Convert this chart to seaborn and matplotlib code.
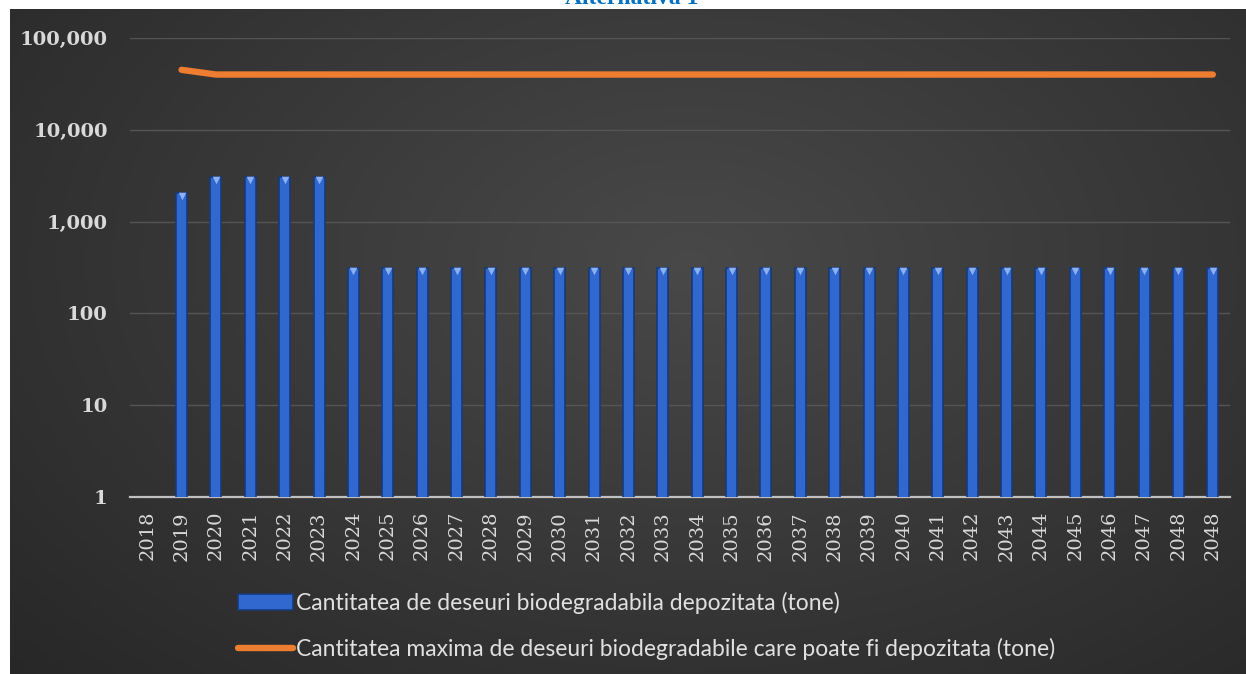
import numpy as np
import pandas as pd
import seaborn as sns
import matplotlib.pyplot as plt
from matplotlib.ticker import FuncFormatter, NullLocator

# data
years = ["2018"] + [str(y) for y in range(2019, 2049)] + ["2048"]
deposited = [np.nan, 2050] + [3050] * 4 + [310] * 26
max_allowed = [np.nan, 45000] + [40000] * 30

bar_label = "Cantitatea de deseuri biodegradabila depozitata (tone)"
line_label = "Cantitatea maxima de deseuri biodegradabile care poate fi depozitata (tone)"

df = pd.DataFrame({
    "pos": range(len(years)),
    "year": years,
    "deposited": deposited,
    "max_allowed": max_allowed,
})

sns.set_theme(style="white")
plt.rcParams["font.family"] = ["DejaVu Serif", "DejaVu Sans"]

W, H = 1246, 674
fig = plt.figure(figsize=(W / 100, H / 100), dpi=100, facecolor="white")

# dark gradient background of the chart area
bg = fig.add_axes([10 / W, 0, 1 - 10 / W, 1 - 9 / H], zorder=0)
gx, gy = np.meshgrid(np.linspace(0, 1, 400), np.linspace(0, 1, 220))
r = np.sqrt(((gx - 0.55) / 0.75) ** 2 + ((gy - 0.62) / 0.9) ** 2)
shade = np.clip(0.285 - 0.13 * r, 0.14, 0.3)
bg.imshow(np.dstack([shade] * 3), aspect="auto", extent=[0, 1, 0, 1], origin="lower")
bg.set_axis_off()

ax = fig.add_axes([130 / W, 1 - 497 / H, 1100 / W, (497 - 38) / H], zorder=1)
ax.patch.set_alpha(0)

sns.barplot(data=df, x="pos", y="deposited", color="#3068d0", width=0.32,
            edgecolor="#173a7a", linewidth=1.2, saturation=1, ax=ax,
            label=bar_label, zorder=3)
ax.scatter(df["pos"], df["deposited"] * 0.93, marker="v", s=30,
           color="#8db0f0", zorder=4, linewidths=0)
sns.lineplot(data=df, x="pos", y="max_allowed", color="#ed7d31", linewidth=4.6,
             ax=ax, label=line_label, zorder=5,
             solid_capstyle="round", solid_joinstyle="round")

ax.set_yscale("log")
ax.set_ylim(1, 100000)
ax.set_xlim(-0.5, len(years) - 0.5)
ax.yaxis.set_major_formatter(FuncFormatter(lambda v, _: f"{v:,.0f}"))
ax.yaxis.set_minor_locator(NullLocator())
ax.grid(axis="y", color="#555555", linewidth=1, zorder=0)
ax.set_axisbelow(True)

ax.set_xticks(df["pos"])
ax.set_xticklabels(years, rotation=90, fontsize=14, color="#d9d9d9")
ax.tick_params(axis="y", labelsize=14, labelcolor="#d9d9d9", length=0, pad=16)
ax.tick_params(axis="x", length=0, pad=10)
for t in ax.get_yticklabels():
    t.set_fontweight("bold")
ax.set_xlabel("")
ax.set_ylabel("")

for s in ["top", "right", "left"]:
    ax.spines[s].set_visible(False)
ax.spines["bottom"].set_color("#c0c0c0")
ax.spines["bottom"].set_linewidth(1.6)

handles, labels = ax.get_legend_handles_labels()
ax.get_legend().remove()
order = [labels.index(bar_label), labels.index(line_label)]
leg = fig.legend([handles[i] for i in order], [labels[i] for i in order],
                 loc="upper left", bbox_to_anchor=(229 / W, 1 - 583 / H),
                 frameon=False, ncol=1, handlelength=2.4, handletextpad=0.12,
                 labelspacing=1.05, borderaxespad=0,
                 prop={"family": ["Lato", "DejaVu Sans"], "size": 16.5})
for t in leg.get_texts():
    t.set_color("#e0e0e0")

fig.text(632 / W, 1 - 4 / H, "Alternativa 1", ha="center", va="baseline",
         fontsize=17, fontweight="bold", color="#0070c0", family="Liberation Serif")

fig.savefig("out.png", dpi=100, facecolor="white")
